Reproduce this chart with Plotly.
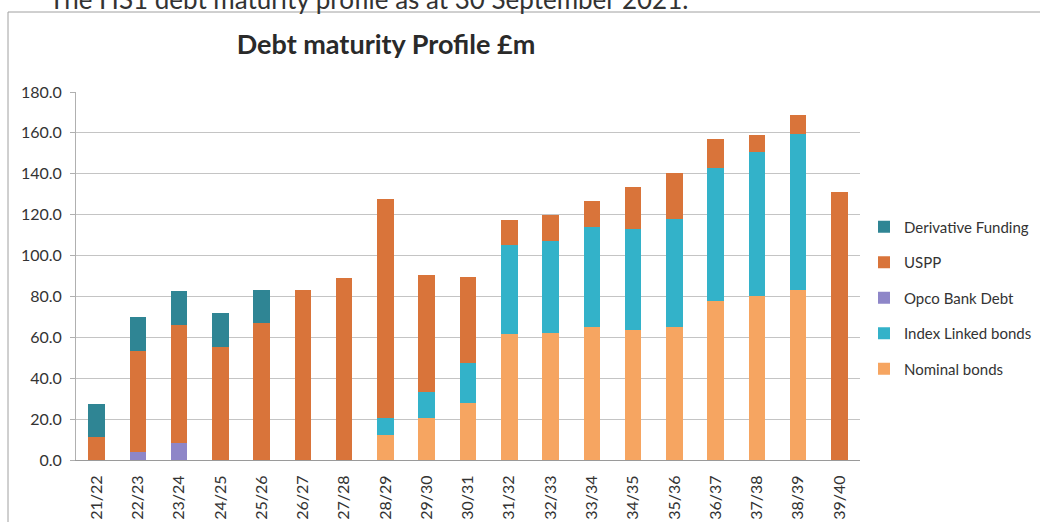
import plotly.graph_objects as go

categories = ["21/22", "22/23", "23/24", "24/25", "25/26", "26/27", "27/28", "28/29", "29/30", "30/31",
              "31/32", "32/33", "33/34", "34/35", "35/36", "36/37", "37/38", "38/39", "39/40"]

nominal = [0, 0, 0, 0, 0, 0, 0, 12.3, 20.4, 28.1, 61.8, 62.0, 65.0, 63.7, 65.0, 77.6, 80.1, 83.3, 0]
index_linked = [0, 0, 0, 0, 0, 0, 0, 8.4, 13.1, 19.3, 43.6, 45.0, 49.0, 49.5, 53.1, 65.4, 70.5, 76.0, 0]
opco = [0, 4.0, 8.5, 0, 0, 0, 0, 0, 0, 0, 0, 0, 0, 0, 0, 0, 0, 0, 0]
uspp = [11.3, 49.4, 57.7, 55.5, 67.0, 83.3, 89.1, 106.8, 56.9, 42.0, 11.9, 12.8, 12.6, 20.3, 22.4, 13.9, 8.2, 9.5, 131.0]
derivative = [16.3, 16.7, 16.3, 16.2, 16.3, 0, 0, 0, 0, 0, 0, 0, 0, 0, 0, 0, 0, 0, 0]

y_ticks = [0, 20, 40, 60, 80, 100, 120, 140, 160, 180]
y_tick_labels = ["0.0", "20.0", "40.0", "60.0", "80.0", "100.0", "120.0", "140.0", "160.0", "180.0"]

series = [
    ("Nominal bonds", nominal, "#F6A561", 5),
    ("Index Linked bonds", index_linked, "#33B2C9", 4),
    ("Opco Bank Debt", opco, "#8E86C8", 3),
    ("USPP", uspp, "#D9743A", 2),
    ("Derivative Funding", derivative, "#2F8594", 1),
]

FONT = "Lato, 'Open Sans', sans-serif"

fig = go.Figure()
for name, vals, col, rank in series:
    fig.add_trace(go.Bar(
        x=categories, y=vals, name=name, marker=dict(color=col, line=dict(width=0)),
        width=0.4, legendrank=rank, legendgroup=name,
    ))

fig.update_layout(
    barmode="stack",
    width=1040, height=522,
    margin=dict(l=76, r=180, t=92, b=62, autoexpand=False),
    paper_bgcolor="white", plot_bgcolor="white",
    font=dict(family=FONT, color="#333333"),
    title=dict(text="<b>Debt maturity Profile £m</b>", x=386 / 1040, xanchor="center",
               y=1 - 45 / 522, yanchor="middle", font=dict(size=27, color="#2a2a2a", family=FONT)),
    legend=dict(x=(864 - 76) / 784, y=(460 - 298) / 368, xanchor="left", yanchor="middle",
                traceorder="grouped", tracegroupgap=13,
                font=dict(size=15, color="#333333", family=FONT),
                itemwidth=30, bgcolor="rgba(0,0,0,0)"),
)

fig.update_yaxes(range=[0, 180], tickvals=y_ticks, ticktext=y_tick_labels,
                 showgrid=True, gridcolor="#c4c4c4", gridwidth=1,
                 showline=True, linecolor="#b0b0b0", linewidth=1,
                 ticks="outside", ticklen=5, tickcolor="#b0b0b0", ticklabelstandoff=5,
                 tickfont=dict(size=16, color="#333333", family=FONT), zeroline=False)
fig.update_xaxes(tickangle=-90, showline=True, linecolor="#9a9a9a", linewidth=1,
                 ticklabelstandoff=8,
                 tickfont=dict(size=16, color="#333333", family=FONT),
                 range=[-0.5, len(categories) - 0.5])

# outer chart frame
fig.add_shape(type="rect", xref="paper", yref="paper",
              x0=(8 - 76) / 784, x1=1.3, y0=-0.3, y1=(460 - 12) / 368,
              line=dict(color="#a0a0a0", width=1), fillcolor="rgba(0,0,0,0)", layer="below")

# document text above chart, partly cut off by the page edge as in the source
fig.add_annotation(text="The HS1 debt maturity profile as at 30 September 2021.",
                   xref="paper", yref="paper", x=(47 - 76) / 784, y=(460 + 1) / 368,
                   xanchor="left", yanchor="middle", showarrow=False,
                   font=dict(size=26, color="#333333", family=FONT))

fig.write_html("out.html")
